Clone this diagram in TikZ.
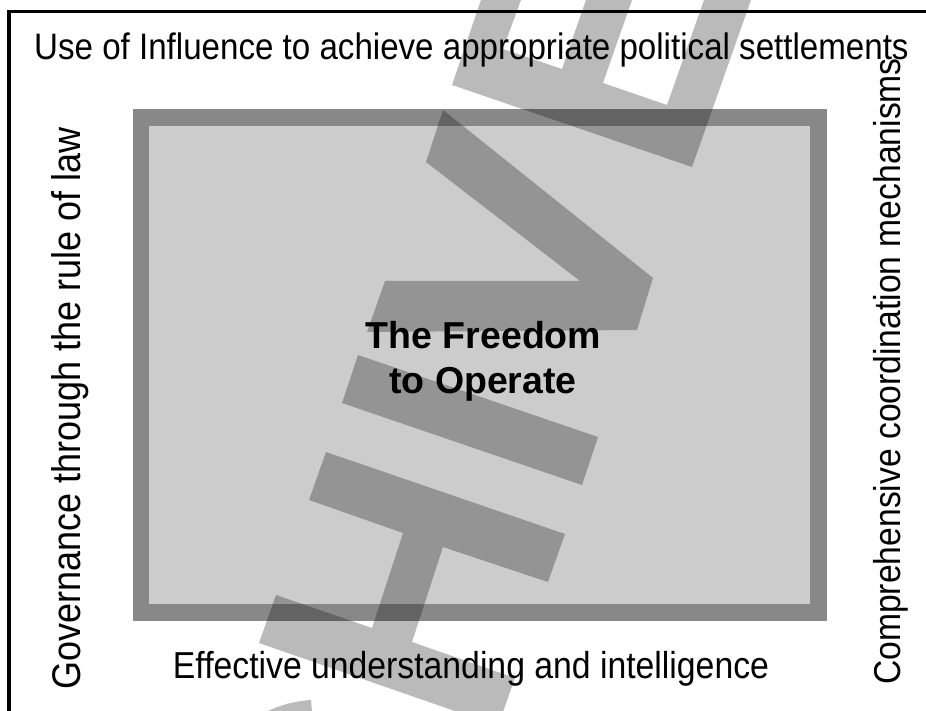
\documentclass[tikz,border=0pt]{standalone}
\usepackage{graphicx}
\usepackage{fontspec}
\setmainfont{Liberation Sans}
\definecolor{frameborder}{HTML}{888888}
\definecolor{framefill}{HTML}{CCCCCC}
\newcommand{\narrowtxt}[1]{\scalebox{0.9}[1]{#1}}
\begin{document}
\begin{tikzpicture}[x=1pt,y=-1pt,
  wm/.style={fill=black,fill opacity=0.27},
  lbl/.style={inner sep=0pt},
  ttl/.style={inner sep=0pt,font=\bfseries\fontsize{37.5}{45}\selectfont}]
\useasboundingbox (0,0) rectangle (926,711);
\fill[white] (0,0) rectangle (926,711);
\draw[line width=3.5pt] (9,711) -- (9,11.5) -- (926,11.5);
\fill[frameborder] (133,109) rectangle (827,621);
\fill[framefill] (149,126) rectangle (810,604);
\node[lbl,anchor=base west,font=\fontsize{36.8}{44}\selectfont] (top) at (34,60) {\narrowtxt{Use of Influence to achieve appropriate political settlements}};
\node[lbl,anchor=base,font=\fontsize{37.5}{44}\selectfont] (bottom) at (471,678) {\narrowtxt{Effective understanding and intelligence}};
\node[lbl,rotate=90,anchor=base west,font=\fontsize{40}{48}\selectfont] (left) at (80,690) {\narrowtxt{Governance through the rule of law}};
\node[lbl,rotate=90,anchor=base west,font=\fontsize{37.4}{44}\selectfont] (right) at (900,685) {\narrowtxt{Comprehensive coordination mechanisms}};
\node[ttl,anchor=base] (t1) at (483.5,348) {The Freedom};
\node[ttl,anchor=base] (t2) at (483,393) {to Operate};
\begin{scope}
\clip (0,0) rectangle (926,711);
\fill[wm] (481,0) -- (452,85) -- (692,167) -- (751,0) -- (704,0) -- (667,105) -- (603,83) -- (632,0) -- (586,0) -- (562,69) -- (503,49) -- (521,0) -- cycle;
\fill[wm] (443,110) -- (653,278) -- (637,330) -- (367,332) -- (385,281) -- (580,281) -- (426,162) -- cycle;
\fill[wm] (358,355) -- (598,437) -- (582,485) -- (342,403) -- cycle;
\fill[wm] (326,452) -- (565,534) -- (548,582) -- (443,547) -- (412,642) -- (515,678) -- (498,726) -- (259,643) -- (276,595) -- (372,628) -- (403,533) -- (309,500) -- cycle;
\fill[wm] (266,712) .. controls (280,705) and (295,701) .. (311,700) -- (312,712) -- cycle;
\end{scope}
\end{tikzpicture}
\end{document}
